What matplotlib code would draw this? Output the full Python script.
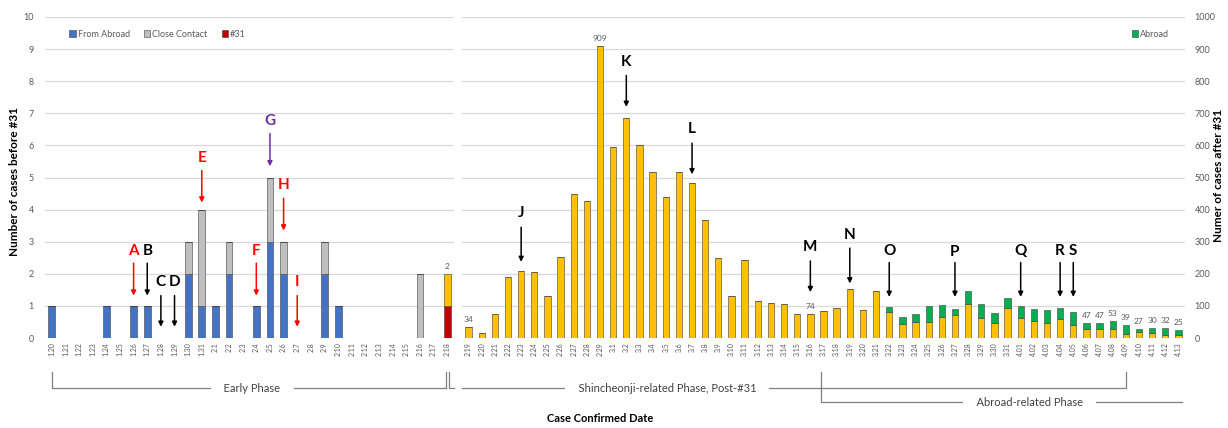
"""
Confirmed cases by date: early phase (before #31) and after #31
"""
import matplotlib.pyplot as plt
from matplotlib.transforms import blended_transform_factory
from matplotlib.patches import Patch

plt.switch_backend('Agg')
plt.rcParams['font.family'] = ['Lato', 'DejaVu Sans']

# ---- Early phase (left axis, 0-10) ----
early_dates = ['1.20', '1.21', '1.22', '1.23', '1.24', '1.25', '1.26', '1.27', '1.28', '1.29',
               '1.30', '1.31', '2.1', '2.2', '2.3', '2.4', '2.5', '2.6', '2.7', '2.8',
               '2.9', '2.10', '2.11', '2.12', '2.13', '2.14', '2.15', '2.16', '2.17', '2.18']
from_abroad = [1, 0, 0, 0, 1, 0, 1, 1, 0, 0, 2, 1, 1, 2, 0, 1, 3, 2, 0, 0,
               2, 1, 0, 0, 0, 0, 0, 0, 0, 0]
close_contact = [0, 0, 0, 0, 0, 0, 0, 0, 0, 0, 1, 3, 0, 1, 0, 0, 2, 1, 0, 0,
                 1, 0, 0, 0, 0, 0, 0, 2, 0, 0]
case31 = [0] * 29 + [1]
early_other = [0] * 29 + [1]

# ---- After #31 (right axis, 0-1000) ----
late_dates = ['2.19', '2.20', '2.21', '2.22', '2.23', '2.24', '2.25', '2.26', '2.27', '2.28', '2.29',
              '3.1', '3.2', '3.3', '3.4', '3.5', '3.6', '3.7', '3.8', '3.9', '3.10',
              '3.11', '3.12', '3.13', '3.14', '3.15', '3.16', '3.17', '3.18', '3.19', '3.20',
              '3.21', '3.22', '3.23', '3.24', '3.25', '3.26', '3.27', '3.28', '3.29', '3.30', '3.31',
              '4.01', '4.02', '4.03', '4.04', '4.05', '4.06', '4.07', '4.08', '4.09', '4.10',
              '4.11', '4.12', '4.13']
domestic = [34, 16, 74, 190, 210, 207, 130, 253, 449, 427, 909,
            595, 686, 600, 516, 438, 518, 483, 367, 248, 131,
            242, 114, 110, 107, 76, 74, 84, 93, 152, 87,
            147, 80, 45, 50, 49, 64, 72, 105, 63, 48, 94,
            63, 52, 48, 59, 40, 28, 28, 27, 13, 20,
            15, 8, 9]
abroad = [0, 0, 0, 0, 0, 0, 0, 0, 0, 0, 0,
          0, 0, 0, 0, 0, 0, 0, 0, 0, 0,
          0, 0, 0, 0, 0, 0, 0, 0, 0, 0,
          0, 18, 19, 26, 51, 40, 19, 41, 42, 30, 31,
          38, 37, 38, 35, 41, 19, 19, 26, 26, 7,
          15, 24, 16]
late_labelled = ['2.19', '2.29', '3.16', '4.06', '4.07', '4.08', '4.09', '4.10', '4.11', '4.12', '4.13']

# Event markers: (letter, date, letter level, arrow tail, arrow tip, colour)
early_events = [('A', '1.26', 2.72, 2.33, 1.32, '#FF0000'),
                ('B', '1.27', 2.72, 2.33, 1.32, 'black'),
                ('C', '1.28', 1.75, 1.32, 0.35, 'black'),
                ('D', '1.29', 1.75, 1.32, 0.35, 'black'),
                ('E', '1.31', 5.6, 5.22, 4.22, '#FF0000'),
                ('F', '2.4', 2.72, 2.33, 1.32, '#FF0000'),
                ('G', '2.5', 6.77, 6.37, 5.35, '#7030A0'),
                ('H', '2.6', 4.77, 4.35, 3.35, '#FF0000'),
                ('I', '2.7', 1.75, 1.32, 0.35, '#FF0000')]
late_events = [('J', '2.23', 388, 345, 237),
               ('K', '3.2', 860, 818, 720),
               ('L', '3.7', 650, 607, 510),
               ('M', '3.16', 282, 240, 143),
               ('N', '3.19', 322, 280, 170),
               ('O', '3.22', 270, 235, 128),
               ('P', '3.27', 268, 235, 128),
               ('Q', '4.01', 270, 235, 128),
               ('R', '4.04', 270, 235, 128),
               ('S', '4.05', 270, 235, 128)]

BLUE, GRAY, RED, YELLOW, GREEN = '#4472C4', '#BFBFBF', '#C00000', '#FFC000', '#00B050'
EDGE = '#404040'
TXT = '#595959'

fig = plt.figure(figsize=(12.28, 4.28), dpi=100)
ax1 = fig.add_axes([45 / 1228, 90 / 428, 409 / 1228, 321 / 428])
ax2 = fig.add_axes([462 / 1228, 90 / 428, 723 / 1228, 321 / 428])

for ax in (ax1, ax2):
    ax.set_axisbelow(True)
    ax.yaxis.grid(True, color='#D9D9D9', lw=0.9)
    for s in ax.spines.values():
        s.set_visible(False)
    ax.tick_params(length=0, colors=TXT)
    ax.tick_params(axis='x', labelsize=5, rotation=90, pad=3)
    ax.tick_params(axis='y', labelsize=6.5)

# left panel
x1 = range(len(early_dates))
w = 0.5
b2 = [a + c for a, c in zip(from_abroad, close_contact)]
ax1.bar(x1, from_abroad, w, color=BLUE, edgecolor=EDGE, lw=0.4)
ax1.bar(x1, close_contact, w, bottom=from_abroad, color=GRAY, edgecolor=EDGE, lw=0.4)
ax1.bar(x1, case31, w, bottom=b2, color=RED, edgecolor=EDGE, lw=0.4)
b3 = [a + c for a, c in zip(b2, case31)]
ax1.bar(x1, early_other, w, bottom=b3, color=YELLOW, edgecolor=EDGE, lw=0.4)
tot_early = [a + c for a, c in zip(b3, early_other)]
ax1.annotate(str(tot_early[-1]), (len(early_dates) - 1, tot_early[-1]), xytext=(0, 3),
             textcoords='offset points', ha='center', va='bottom', fontsize=6, color=TXT)
ax1.set_xlim(-0.5, len(early_dates) - 0.5)
ax1.set_ylim(0, 10)
ax1.set_yticks(range(0, 11))
ax1.set_xticks(list(x1))
ax1.set_xticklabels(early_dates)
ax1.tick_params(axis='y', pad=8)
ax1.legend(handles=[Patch(facecolor=BLUE, edgecolor=EDGE, lw=0.4, label='From Abroad'),
                    Patch(facecolor=GRAY, edgecolor=EDGE, lw=0.4, label='Close Contact'),
                    Patch(facecolor=RED, edgecolor=EDGE, lw=0.4, label='#31')],
           loc='center left', bbox_to_anchor=(0.04, 0.947), ncol=3, frameon=False,
           fontsize=6.5, handlelength=0.7, handleheight=0.7, handletextpad=0.2,
           columnspacing=1.6, labelcolor=TXT)

for letter, d, ly, tail, tip, col in early_events:
    xi = early_dates.index(d)
    ax1.text(xi, ly, letter, ha='center', va='center', fontsize=11, fontweight='bold', color=col)
    ax1.annotate('', xy=(xi, tip), xytext=(xi, tail),
                 arrowprops=dict(arrowstyle='-|>', color=col, lw=1.1, mutation_scale=7,
                                 shrinkA=0, shrinkB=0))

# right panel
x2 = range(len(late_dates))
ax2.bar(x2, domestic, 0.48, color=YELLOW, edgecolor=EDGE, lw=0.4)
ax2.bar(x2, abroad, 0.48, bottom=domestic, color=GREEN, edgecolor=EDGE, lw=0.4, label='Abroad')
for d in late_labelled:
    xi = late_dates.index(d)
    tot = domestic[xi] + abroad[xi]
    ax2.annotate(str(tot), (xi, tot), xytext=(0, 3), textcoords='offset points',
                 ha='center', va='bottom', fontsize=6, color=TXT)
ax2.set_xlim(-0.5, len(late_dates) - 0.5)
ax2.set_ylim(0, 1000)
ax2.set_yticks(range(0, 1001, 100))
ax2.set_xticks(list(x2))
ax2.set_xticklabels(late_dates)
ax2.yaxis.tick_right()
ax2.tick_params(axis='y', pad=7)
ax2.legend(loc='center left', bbox_to_anchor=(0.915, 0.947), frameon=False, fontsize=6.5,
           handlelength=0.7, handleheight=0.7, handletextpad=0.2, labelcolor=TXT)

for letter, d, ly, tail, tip in late_events:
    xi = late_dates.index(d)
    ax2.text(xi, ly, letter, ha='center', va='center', fontsize=11, fontweight='bold', color='black')
    ax2.annotate('', xy=(xi, tip), xytext=(xi, tail),
                 arrowprops=dict(arrowstyle='-|>', color='black', lw=1.1, mutation_scale=7,
                                 shrinkA=0, shrinkB=0))

# phase brackets below the axis
LC = '#7F7F7F'
y_top, y_mid, y_low = (428 - 372) / 428, (428 - 388) / 428, (428 - 402) / 428
t1 = blended_transform_factory(ax1.transData, fig.transFigure)
t2 = blended_transform_factory(ax2.transData, fig.transFigure)
kw = dict(color=LC, lw=0.9, clip_on=False)
last1 = len(early_dates) - 1
ax1.plot([0, 0, last1 - 0.1], [y_top, y_mid, y_mid], transform=t1, **kw)
ax1.plot([last1 - 0.1, last1 - 0.1], [y_mid, y_top], transform=t1, **kw)
ax1.plot([last1 + 0.1, last1 + 0.1, last1 + 0.5], [y_top, y_mid, y_mid], transform=t1, **kw)
i409 = late_dates.index('4.09')
ax2.plot([-0.5, i409, i409], [y_mid, y_mid, y_top], transform=t2, **kw)
i317 = late_dates.index('3.17') - 0.2
ax2.plot([i317, i317, len(late_dates) - 0.7], [y_top, y_low, y_low], transform=t2, **kw)

box = dict(facecolor='white', edgecolor='none', boxstyle='square,pad=0.15')
ax1.text(14.7, y_mid, '    Early Phase    ', transform=t1, ha='center', va='center',
         fontsize=8, color='#404040', bbox=box)
ax2.text(15.1, y_mid, '    Shincheonji-related Phase, Post-#31    ', transform=t2,
         ha='center', va='center', fontsize=8, color='#404040', bbox=box)
ax2.text(42.7, y_low, '    Abroad-related Phase    ', transform=t2, ha='center',
         va='center', fontsize=8, color='#404040', bbox=box)

fig.text(600 / 1228, 10 / 428, 'Case Confirmed Date', ha='center', va='center',
         fontsize=8, fontweight='bold')
fig.text(15 / 1228, 0.575, 'Number of cases before #31', rotation=90, ha='center',
         va='center', fontsize=8.5, fontweight='bold')
fig.text(1219 / 1228, 0.589, 'Numer of cases after #31', rotation=90, ha='center',
         va='center', fontsize=8.5, fontweight='bold')

fig.savefig('out.png', dpi=100)
plt.close(fig)
